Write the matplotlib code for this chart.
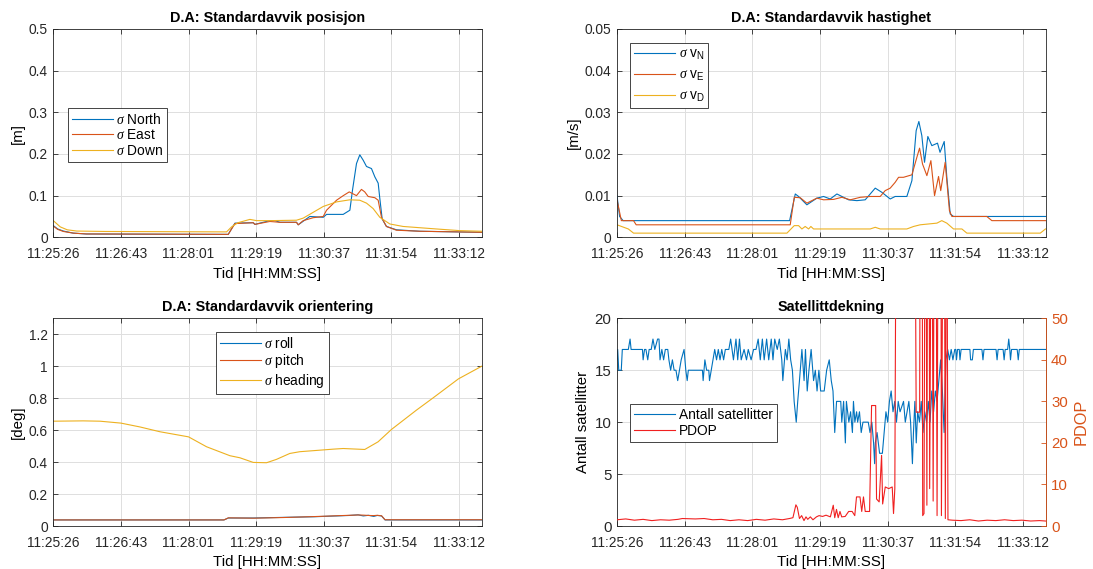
import matplotlib
matplotlib.use("Agg")
import matplotlib.pyplot as plt

plt.rcParams['font.family'] = ['Liberation Sans', 'DejaVu Sans']
plt.rcParams['mathtext.fontset'] = 'custom'
plt.rcParams['mathtext.rm'] = 'Liberation Sans'
plt.rcParams['mathtext.it'] = 'Liberation Serif:italic'
plt.rcParams['mathtext.bf'] = 'Liberation Sans:bold'

# ---- time axis (seconds after 11:25:26) ----
time_end = 492.0
tick_seconds = [0.0, 77.67, 155.33, 233.0, 310.67, 388.33, 466.0]
tick_labels = ["11:25:26", "11:26:43", "11:28:01", "11:29:19", "11:30:37", "11:31:54", "11:33:12"]

# ---- position standard deviation [m] ----
pos_north_t = [0, 5, 11.5, 23, 38, 200.9, 208.6, 229.6, 231.5, 248.7, 254.5, 260.2, 279.3, 281.3,
               294.6, 310, 313.8, 332.9, 340.6, 343.6, 348.2, 352, 355.9, 359.7, 365.4, 369.3,
               373.1, 375, 377.7, 382.6, 394.1, 420.9, 492]
pos_north = [0.028, 0.02, 0.015, 0.01, 0.008, 0.007, 0.034, 0.035, 0.031, 0.04, 0.04, 0.036, 0.036, 0.03,
             0.05, 0.048, 0.055, 0.055, 0.065, 0.113, 0.177, 0.198, 0.185, 0.17, 0.165, 0.145,
             0.13, 0.093, 0.044, 0.026, 0.018, 0.0145, 0.012]
pos_east_t = [0, 5, 11.5, 23, 38, 200.9, 208.6, 229.6, 231.5, 248.7, 254.5, 260.2, 279.3, 281.3, 287,
              298.4, 310, 313.8, 325.3, 333, 339.9, 343.6, 348.2, 353.9, 357.7, 361.6, 369.3, 373.1,
              376.9, 382.6, 394.1, 420.9, 492]
pos_east = [0.027, 0.019, 0.014, 0.01, 0.008, 0.007, 0.033, 0.035, 0.031, 0.038, 0.037, 0.036, 0.036, 0.03, 0.04,
            0.047, 0.05, 0.065, 0.089, 0.1, 0.109, 0.105, 0.1, 0.115, 0.109, 0.098, 0.095, 0.089,
            0.048, 0.026, 0.017, 0.0145, 0.012]
pos_down_t = [0, 8, 16, 27, 60, 199, 204.7, 212, 225.8, 233.4, 248.7, 279.3, 287, 298.5, 310, 325.3,
              340.6, 352, 359.7, 367.3, 375, 386.5, 401.8, 440, 466.8, 492]
pos_down = [0.04, 0.025, 0.018, 0.015, 0.014, 0.013, 0.025, 0.035, 0.043, 0.04, 0.04, 0.041, 0.046, 0.06, 0.074,
            0.085, 0.09, 0.089, 0.082, 0.069, 0.048, 0.032, 0.026, 0.02, 0.016, 0.0145]

# ---- velocity standard deviation [m/s] ----
vel_n_t = [0, 3, 7, 198.2, 204.7, 208.5, 218.0, 229.5, 237.2, 244.8, 252.5, 258.2, 265.9, 275.4, 285.0,
           296.5, 304.1, 313.7, 319.4, 332.8, 338.6, 343.5, 346.6, 350.0, 353.1, 356.9, 361.5, 368.0,
           370.9, 375.7, 378.7, 382.6, 386.4, 492]
vel_n = [0.01, 0.005, 0.004, 0.004, 0.0104, 0.0098, 0.0078, 0.0094, 0.0098, 0.0092, 0.0104, 0.0098, 0.009,
         0.0088, 0.009, 0.0118, 0.0108, 0.0092, 0.0098, 0.0098, 0.0136, 0.0256, 0.0278, 0.0244, 0.018,
         0.0242, 0.022, 0.0226, 0.0204, 0.023, 0.0144, 0.0056, 0.005, 0.005]
vel_e_t = [0, 5, 19, 22, 198.9, 203.5, 210.4, 218.0, 229.5, 237.2, 248.7, 258.2, 267.8, 279.3, 290.7,
           302.2, 307.9, 313.7, 319.4, 323.3, 328.9, 338.6, 344.3, 347.4, 350.8, 355.8, 360.4, 364.6,
           369.2, 371.7, 376.8, 381.7, 384.5, 424.6, 430.4, 492]
vel_e = [0.009, 0.004, 0.004, 0.003, 0.003, 0.0096, 0.0095, 0.0082, 0.0094, 0.009, 0.0091, 0.0096, 0.009,
         0.0096, 0.0098, 0.0098, 0.0112, 0.0118, 0.0132, 0.0144, 0.0144, 0.015, 0.0192, 0.0214, 0.0176,
         0.0148, 0.0184, 0.01, 0.0146, 0.0112, 0.018, 0.0064, 0.005, 0.005, 0.004, 0.004]
vel_d_t = [0, 13, 19, 195.1, 203.5, 208.5, 212.3, 216.1, 220.0, 222.6, 225.7, 290.7, 296.5, 302.2,
           332.8, 340.5, 348.1, 367.3, 372.9, 378.7, 386.4, 396.0, 401.7, 486, 492]
vel_d = [0.003, 0.002, 0.001, 0.001, 0.0028, 0.0028, 0.002, 0.0026, 0.002, 0.0026, 0.002, 0.002, 0.0024,
         0.002, 0.002, 0.0026, 0.003, 0.0034, 0.004, 0.0034, 0.002, 0.002, 0.001, 0.001, 0.002]

# ---- orientation standard deviation [deg] ----
att_t = [0, 196, 201, 230, 264, 300, 340, 350, 356, 362, 368, 372, 377, 381, 492]
att_roll = [0.038, 0.038, 0.05, 0.05, 0.054, 0.058, 0.066, 0.07, 0.063, 0.067, 0.06, 0.066, 0.063, 0.038, 0.038]
att_pitch = [0.038, 0.038, 0.051, 0.049, 0.053, 0.059, 0.067, 0.069, 0.068, 0.066, 0.065, 0.067, 0.064, 0.039, 0.039]
heading_t = [0, 34.4, 53.6, 77.7, 99.5, 122.4, 155.3, 176, 202.8, 214.3, 229.6, 244.9, 256.3, 271.6,
             283.1, 302.3, 321.4, 332.9, 357.7, 373, 388.3, 417, 436.2, 465.3, 492]
att_heading = [0.656, 0.658, 0.656, 0.644, 0.62, 0.59, 0.558, 0.496, 0.44, 0.427, 0.398, 0.396, 0.417, 0.454,
               0.465, 0.473, 0.481, 0.485, 0.479, 0.527, 0.604, 0.725, 0.802, 0.921, 1.0]

# ---- satellite coverage ----
sat_t = [0, 0.8, 2.0, 4.9, 6.1, 13.0, 15.0, 16.2, 29.2, 30.0, 31.6, 33.2, 35.3, 36.9, 39.3, 41.3, 43.4,
         46.6, 48.2, 49.4, 51.5, 53.5, 55.5, 58.3, 59.6, 61.6, 63.6, 65.6, 67.7, 69.7, 71.7, 73.7, 77.0,
         79.0, 80.6, 81.9, 98.1, 98.9, 100.9, 102.9, 105.4, 106.2, 108.2, 110.2, 112.2, 114.3, 116.3,
         118.3, 120.3, 122.4, 124.4, 128.4, 130.5, 133.7, 136.6, 138.6, 140.6, 142.6, 145.9, 148.7,
         150.7, 154.0, 156.8, 159.6, 162.1, 164.5, 166.9, 169.0, 171.8, 174.2, 177.1, 179.1, 181.1,
         184.0, 186.4, 189.2, 190.4, 193.3, 195.3, 197.3, 199.4, 201.4, 203.4, 205.8, 207.5, 209.5,
         212.3, 214.8, 216.4, 218.4, 220.4, 222.9, 225.7, 227.7, 229.7, 231.8, 233.8, 237.9, 240.7,
         243.7, 246.0, 248.0, 250.0, 252.1, 256.9, 258.1, 260.2, 262.2, 263.4, 266.2, 268.2, 270.3,
         271.5, 273.1, 275.1, 276.3, 278.4, 280.4, 282.4, 288.5, 290.5, 292.6, 294.6, 295.8, 296.6,
         298.6, 301.5, 304.7, 306.7, 308.8, 310.8, 312.8, 314.8, 316.9, 318.9, 320.9, 322.9, 325.0,
         329.0, 331.0, 335.1, 337.1, 339.2, 340.4, 342.0, 343.6, 345.2, 347.3, 349.3, 351.3, 353.3,
         355.4, 357.4, 359.4, 361.4, 363.5, 365.5, 367.5, 369.5, 371.6, 373.6, 375.6, 377.6, 379.7,
         381.7, 383.7, 385.7, 387.8, 389.0, 389.8, 391.0, 393.0, 393.8, 395.1, 405.2, 406.0, 408.0,
         409.2, 419.0, 420.2, 421.4, 435.2, 436.4, 437.6, 443.3, 444.5, 445.7, 448.5, 449.8, 451.0,
         451.8, 453.0, 459.5, 460.7, 461.9, 492]
sat_count = [16, 17, 15, 15, 17, 17, 18, 17, 17, 16, 17, 17, 16, 17, 17, 18, 17,
             18, 18, 16, 17, 16, 17, 17, 16, 15, 16, 15, 15, 14, 15, 16, 17,
             15, 14, 15, 15, 14, 16, 15, 15, 14, 15, 16, 17, 16, 17,
             16, 17, 16, 17, 17, 18, 16, 18, 16, 18, 16, 17, 16,
             17, 16, 17, 17, 18, 16, 18, 16, 18, 16, 18, 16, 18,
             17, 18, 16, 14, 17, 16, 18, 16, 15, 12, 10, 12, 14,
             17, 14, 17, 13, 15, 17, 14, 15, 13, 15, 13, 13, 15,
             16, 14, 13, 9, 12, 12, 10, 12, 8, 12, 10, 11, 9,
             12, 10, 11, 10, 11, 9, 10, 10, 9, 10, 8, 6, 8,
             9, 7, 7, 9, 11, 10, 12, 13, 11, 12, 10, 12, 11,
             12, 10, 12, 10, 6, 9, 12, 8, 11, 10, 12, 9, 11,
             10, 12, 10, 13, 11, 13, 12, 14, 16, 13, 9, 16, 17,
             16, 17, 16, 17, 17, 16, 17, 17, 16, 17, 17, 16, 16,
             17, 17, 16, 17, 17, 16, 17, 17, 16, 17, 17, 18, 17,
             16, 17, 17, 16, 17, 17]
pdop_t = [0, 10, 20, 30, 40, 50, 60, 70, 75, 90, 100, 110, 120, 130, 140, 150, 160, 170, 180, 190,
          198, 202, 205.4, 207, 209.5, 212, 214.7, 217, 219, 222, 225, 229, 232, 236, 240, 245, 248.3,
          250, 252, 254, 256, 258, 262, 266, 270, 273, 275, 279, 281, 283, 285, 290, 292.3, 297, 298,
          301, 303.8, 305, 308, 312, 316, 317.5, 319, 320.2, 342.5, 343.5, 347.5, 348, 350.5, 351,
          352.5, 353.5, 355, 355.8, 356.5, 358.5, 359, 360.5, 362, 363, 364, 366.5, 367.5, 368.5,
          372, 372.5, 374, 376, 377, 378, 379, 380, 385, 395, 405, 415, 425, 435, 445, 455, 465,
          475, 485, 492]
pdop = [1.5, 1.7, 1.4, 1.6, 1.3, 1.5, 1.4, 1.6, 1.8, 1.7, 1.8, 1.5, 1.6, 1.3, 1.5, 1.3, 1.6, 1.4, 1.7, 1.5,
        1.8, 2.0, 5.1, 4.5, 1.8, 2.5, 1.3, 2.2, 1.6, 2.2, 1.5, 2.2, 2.5, 2.3, 2.6, 2.2, 5.0,
        2.0, 4.0, 2.0, 3.5, 2.2, 2.3, 3.5, 3.5, 2.5, 7.0, 7.0, 3.5, 7.0, 3.5, 3.5, 29, 29, 6.5,
        5.8, 17, 5.3, 9.4, 9.0, 9.4, 3.0, 9.0, 70, 70, 27.4, 27.4, 70, 70, 2.5,
        3.0, 70, 70, 5.0, 70, 70, 9.0, 70, 70, 6.0, 70, 70, 2.5, 70,
        70, 2.5, 70, 70, 1.8, 70, 70, 1.5, 1.4, 1.3, 1.5, 1.2, 1.4, 1.3, 1.5, 1.3, 1.4,
        1.2, 1.3, 1.2]

# ---- styling ----
C_BLUE = '#0072BD'
C_ORANGE = '#D95319'
C_YELLOW = '#EDB120'
C_RED = '#F02020'
AX_COLOR = '#262626'
GRID_COLOR = '#dfdfdf'
LW = 0.8
TICK_FS = 9.9
LABEL_FS = 10.8
TITLE_FS = 10.4
LEGEND_FS = 9.9

W, H = 1093, 569
fig = plt.figure(figsize=(W / 100, H / 100), dpi=100)


def frame(px_left, px_top, px_right, px_bottom):
    return [px_left / W, 1 - px_bottom / H, (px_right - px_left) / W, (px_bottom - px_top) / H]


def style(ax, title, ylabel, right_ticks=True):
    ax.set_xlim(0, time_end)
    ax.set_xticks(tick_seconds)
    ax.set_xticklabels(tick_labels)
    ax.grid(True, color=GRID_COLOR, linewidth=0.7)
    ax.set_axisbelow(True)
    ax.tick_params(direction='in', length=3.5, width=0.6, colors=AX_COLOR, labelsize=TICK_FS,
                   top=True, right=right_ticks, pad=4)
    ax.tick_params(axis='x', pad=7)
    for s in ax.spines.values():
        s.set_color(AX_COLOR)
        s.set_linewidth(0.6)
    ax.set_title(title, fontsize=TITLE_FS, fontweight='bold', pad=5)
    ax.set_xlabel('Tid [HH:MM:SS]', fontsize=LABEL_FS, labelpad=4)
    ax.set_ylabel(ylabel, fontsize=LABEL_FS, labelpad=3)


def legend(ax, handles, labels, anchor, spacing=0.12):
    lg = ax.legend(handles, labels, loc='upper left', bbox_to_anchor=anchor, fontsize=LEGEND_FS,
                   frameon=True, fancybox=False, framealpha=1,
                   handlelength=3.0, handletextpad=0.25, borderpad=0.28, labelspacing=spacing,
                   borderaxespad=0)
    lg.get_frame().set_edgecolor(AX_COLOR)
    lg.get_frame().set_linewidth(0.6)
    return lg


# Position
ax1 = fig.add_axes(frame(53.3, 29, 481.7, 237.3))
h = [ax1.plot(pos_north_t, pos_north, color=C_BLUE, lw=LW)[0],
     ax1.plot(pos_east_t, pos_east, color=C_ORANGE, lw=LW)[0],
     ax1.plot(pos_down_t, pos_down, color=C_YELLOW, lw=LW)[0]]
ax1.set_ylim(0, 0.5)
ax1.set_yticks([0, 0.1, 0.2, 0.3, 0.4, 0.5])
ax1.set_yticklabels(['0', '0.1', '0.2', '0.3', '0.4', '0.5'])
style(ax1, 'D.A: Standardavvik posisjon', '[m]')
legend(ax1, h, [r'$\sigma$ North', r'$\sigma$ East', r'$\sigma$ Down'], (0.0336, 0.622))

# Velocity
ax2 = fig.add_axes(frame(617, 29, 1045.5, 237.3))
h = [ax2.plot(vel_n_t, vel_n, color=C_BLUE, lw=LW)[0],
     ax2.plot(vel_e_t, vel_e, color=C_ORANGE, lw=LW)[0],
     ax2.plot(vel_d_t, vel_d, color=C_YELLOW, lw=LW)[0]]
ax2.set_ylim(0, 0.05)
ax2.set_yticks([0, 0.01, 0.02, 0.03, 0.04, 0.05])
ax2.set_yticklabels(['0', '0.01', '0.02', '0.03', '0.04', '0.05'])
style(ax2, 'D.A: Standardavvik hastighet', '[m/s]')
legend(ax2, h, [r'$\sigma$ v$_{\rm N}$', r'$\sigma$ v$_{\rm E}$', r'$\sigma$ v$_{\rm D}$'],
       (0.0303, 0.934), spacing=0.45)

# Orientation
ax3 = fig.add_axes(frame(53.3, 318.3, 481.7, 526))
h = [ax3.plot(att_t, att_roll, color=C_BLUE, lw=LW)[0],
     ax3.plot(att_t, att_pitch, color=C_ORANGE, lw=LW)[0],
     ax3.plot(heading_t, att_heading, color=C_YELLOW, lw=LW)[0]]
ax3.set_ylim(0, 1.3)
ax3.set_yticks([0, 0.2, 0.4, 0.6, 0.8, 1.0, 1.2])
ax3.set_yticklabels(['0', '0.2', '0.4', '0.6', '0.8', '1', '1.2'])
style(ax3, 'D.A: Standardavvik orientering', '[deg]')
legend(ax3, h, [r'$\sigma$ roll', r'$\sigma$ pitch', r'$\sigma$ heading'], (0.379, 0.935))

# Satellite coverage
ax4 = fig.add_axes(frame(617, 318.3, 1045.5, 526))
l_sat, = ax4.plot(sat_t, sat_count, color=C_BLUE, lw=LW)
ax4.set_ylim(0, 20)
ax4.set_yticks([0, 5, 10, 15, 20])
style(ax4, 'Satellittdekning', 'Antall satellitter', right_ticks=False)
ax4.tick_params(axis='y', labelsize=LABEL_FS)

ax5 = ax4.twinx()
l_pdop, = ax5.plot(pdop_t, pdop, color=C_RED, lw=LW)
ax5.set_ylim(0, 50)
ax5.set_yticks([0, 10, 20, 30, 40, 50])
ax5.set_xlim(0, time_end)
ax5.tick_params(axis='y', direction='in', length=3.5, width=0.6, colors=C_ORANGE,
                labelsize=LABEL_FS, pad=4)
ax5.spines['right'].set_color(C_ORANGE)
ax5.spines['right'].set_linewidth(0.6)
for side in ('left', 'top', 'bottom'):
    ax5.spines[side].set_visible(False)
ax5.set_ylabel('PDOP', fontsize=LABEL_FS + 1, color=C_ORANGE, labelpad=4)
legend(ax5, [l_sat, l_pdop], ['Antall satellitter', 'PDOP'], (0.031, 0.586))

fig.savefig('out.png', dpi=100, facecolor='white')
